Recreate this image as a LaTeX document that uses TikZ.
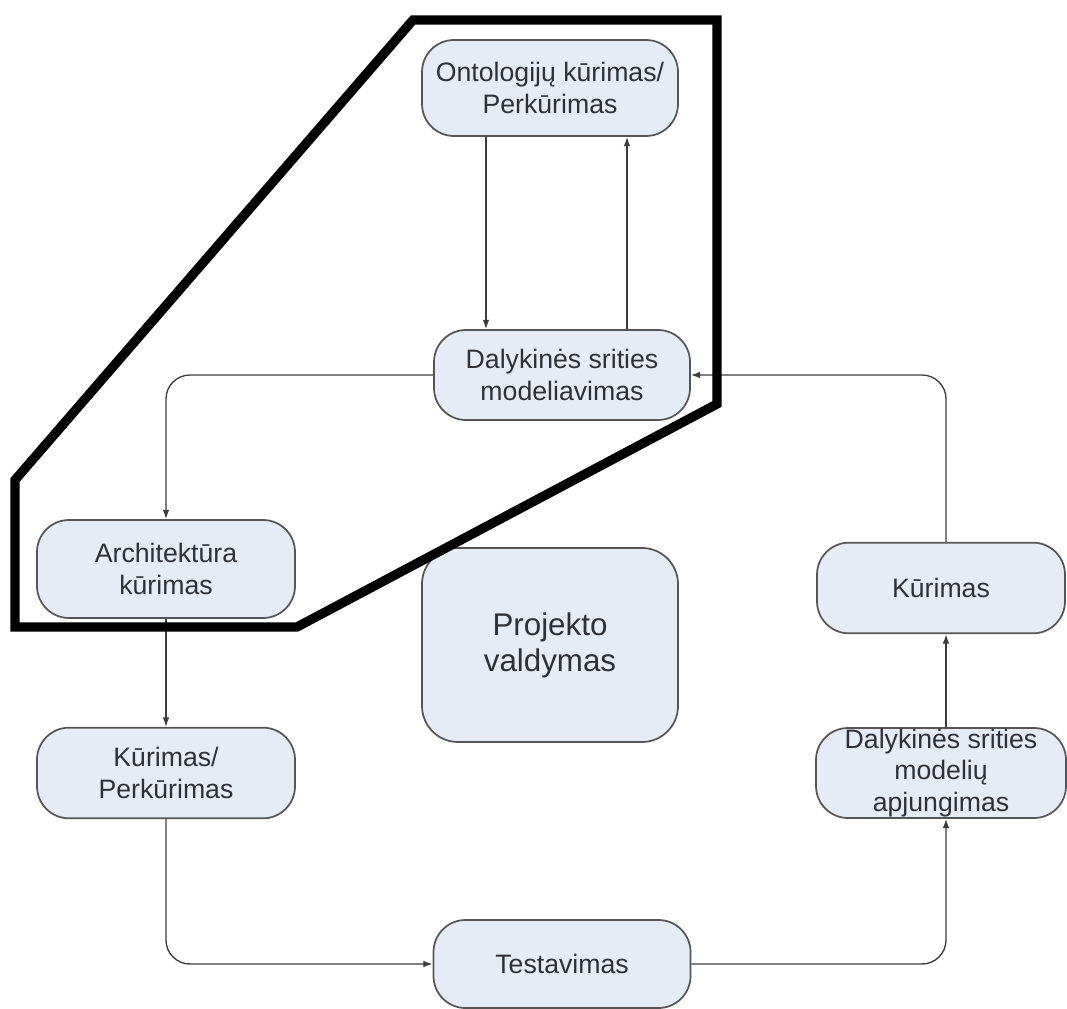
\documentclass[tikz,border=0pt]{standalone}
\usepackage{fontspec}
\setmainfont{Liberation Sans}
\usetikzlibrary{arrows.meta}
\definecolor{boxfill}{HTML}{E6ECF6}
\definecolor{boxline}{HTML}{555555}
\definecolor{txt}{HTML}{2E3138}
\definecolor{connline}{HTML}{3C3C3C}
\begin{document}
\begin{tikzpicture}[x=0.75pt,y=-0.75pt,
  stage/.style={draw=boxline, line width=1.3pt, fill=boxfill, rounded corners=24pt,
    text=txt, align=center, inner sep=0pt,
    font=\fontsize{20}{24.5}\selectfont},
  conn/.style={draw=connline, line width=1pt, -{Latex[length=7pt,width=5pt]}},
  roundturn/.style={rounded corners=18pt},
  outline/.style={line width=7pt, line join=miter, miter limit=1.5}
]
% canvas
\fill[white] (0,0) rectangle (1067,1009);
\useasboundingbox (0,0) rectangle (1067,1009);

% process stages
\node[stage, minimum width=192pt, minimum height=72pt] (onto) at (550,88)
  {Ontologijų kūrimas/\\Perkūrimas};
\node[stage, minimum width=192pt, minimum height=67.5pt] (dsm) at (562,375)
  {Dalykinės srities\\modeliavimas};
\node[stage, minimum width=193.5pt, minimum height=73.5pt] (arch) at (166,569)
  {Architektūra\\kūrimas};
\node[stage, minimum width=192pt, minimum height=145.5pt, rounded corners=27pt,
  font=\fontsize{23.5}{27}\selectfont] (proj) at (550,645)
  {Projekto\\valdymas};
\node[stage, minimum width=193.5pt, minimum height=68pt] (kp) at (166,773)
  {Kūrimas/\\Perkūrimas};
\node[stage, minimum width=192.75pt, minimum height=66pt] (test) at (562,964)
  {Testavimas};
\node[stage, minimum width=186pt, minimum height=68pt] (kur) at (941,588)
  {Kūrimas};
\node[stage, minimum width=187.5pt, minimum height=67.5pt,
  font=\fontsize{20}{23.5}\selectfont] (apj) at (941,773)
  {Dalykinės srities\\modelių\\apjungimas};

% vertical guide positions of the connectors
\coordinate (xa) at (486,0);
\coordinate (xb) at (627,0);
\coordinate (xr) at (946,0);

% connectors
\draw[conn] (onto.south -| xa) -- (dsm.north -| xa);
\draw[conn] (dsm.north -| xb) -- (onto.south -| xb);
\draw[conn, roundturn] (dsm.west) -| (arch.north);
\draw[conn, roundturn] (kur.north -| xr) |- (dsm.east);
\draw[conn] (arch.south) -- (kp.north);
\draw[conn, roundturn] (kp.south) |- (test.west);
\draw[conn, roundturn] (test.east) -| (apj.south -| xr);
\draw[conn] (apj.north -| xr) -- (kur.south -| xr);

% thick outline around the ontology part
\coordinate (f1) at (413,20);
\coordinate (f2) at (717,20);
\coordinate (f3) at (717,404);
\coordinate (f4) at (297,627);
\coordinate (f5) at (15,627);
\coordinate (f6) at (15,480);
\draw[outline] (f1) -- (f2) -- (f3) -- (f4) -- (f5) -- (f6) -- cycle;
\end{tikzpicture}
\end{document}
